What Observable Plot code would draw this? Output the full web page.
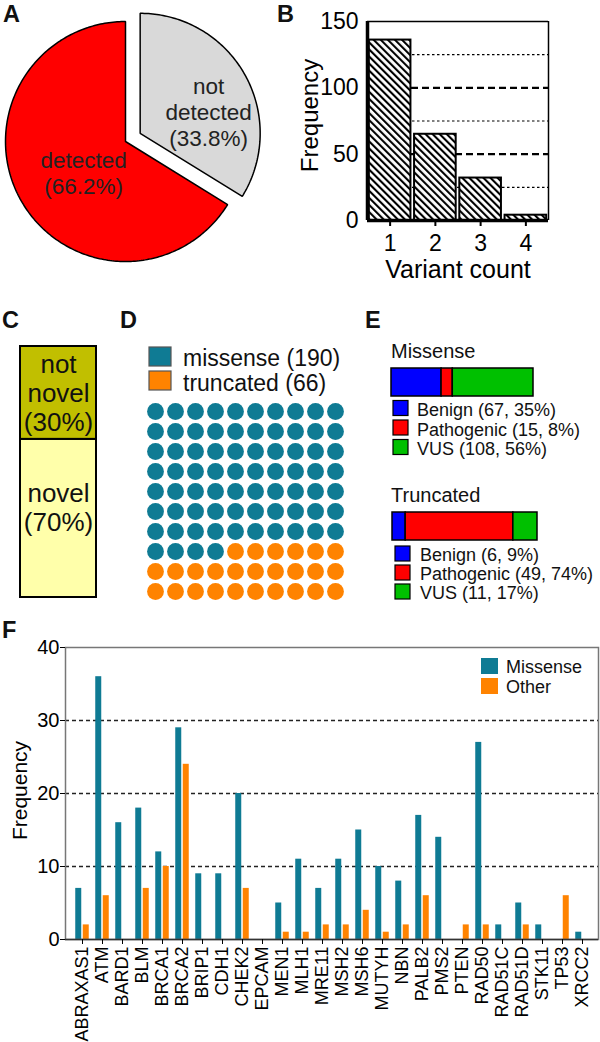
<!DOCTYPE html>
<html><head><meta charset="utf-8">
<script src="https://cdn.jsdelivr.net/npm/d3@7"></script>
<script src="https://cdn.jsdelivr.net/npm/@observablehq/plot@0.6"></script>
<style>
html,body{margin:0;padding:0;background:#fff;}
#root{position:relative;width:600px;height:1042px;overflow:hidden;font-family:"Liberation Sans",Arial,Helvetica,sans-serif;}
.panel{position:absolute;}
.panel svg{display:block;overflow:visible;}
#overlay{position:absolute;left:0;top:0;pointer-events:none;}
</style></head><body><div id="root"></div>
<script>
const FONT = '"Liberation Sans", Arial, Helvetica, sans-serif';

// ---- A: detection pie
const pieLabels = ["not detected", "detected"];
const piePercent = [33.8, 66.2];
const pieColors = ["#d9d9d9", "#ff0000"];

// ---- B: variant count histogram
const variantCount = [1, 2, 3, 4];
const variantFrequency = [136, 65, 32, 4];

// ---- C: novelty
const noveltyLabels = ["novel", "not novel"];
const noveltyPercent = [70, 30];
const noveltyDrawnShare = [63, 37]; // share of the box as drawn
const noveltyColors = ["#ffffaa", "#c1bf00"];

// ---- D: waffle
const mutationTypes = ["missense", "truncated"];
const mutationCounts = [190, 66];
const mutationColors = ["#0f7b94", "#ff8300"];

// ---- E: classification
const classLabels = ["Benign", "Pathogenic", "VUS"];
const classColors = ["#0000ff", "#ff0000", "#00c000"];
const missenseClass = [67, 15, 108];
const missenseClassPct = [35, 8, 56];
const truncatedClass = [6, 49, 11];
const truncatedClassPct = [9, 74, 17];

// ---- F: per gene
const genes = ["ABRAXAS1","ATM","BARD1","BLM","BRCA1","BRCA2","BRIP1","CDH1","CHEK2","EPCAM","MEN1","MLH1","MRE11","MSH2","MSH6","MUTYH","NBN","PALB2","PMS2","PTEN","RAD50","RAD51C","RAD51D","STK11","TP53","XRCC2"];
const missenseByGene = [7,36,16,18,12,29,9,9,20,0,5,11,7,11,15,10,8,17,14,0,27,2,5,2,0,1];
const otherByGene    = [2,6,0,7,10,24,0,0,7,0,1,1,2,2,4,1,2,6,0,2,2,0,2,0,6,0];
const fSeries = ["Missense", "Other"];

const root = document.getElementById("root");
function place(svg, left, top) {
  const d = document.createElement("div");
  d.className = "panel";
  d.style.left = left + "px";
  d.style.top = top + "px";
  d.appendChild(svg);
  root.appendChild(d);
  return svg;
}
const baseStyle = (fs) => ({fontFamily: FONT, fontSize: fs, color: "#000", background: "transparent", overflow: "visible"});

// ===== A =====
const explode = [0.14, 0];
let acc = 0;
const slices = pieLabels.map((label, i) => {
  const a0 = acc, a1 = acc + piePercent[i] / 100 * 2 * Math.PI;
  acc = a1;
  return {label, pct: piePercent[i], color: pieColors[i], a0, a1, mid: (a0 + a1) / 2, off: explode[i]};
});
const piePts = slices.flatMap(s => {
  const ox = s.off * Math.sin(s.mid), oy = s.off * Math.cos(s.mid);
  const n = Math.ceil((s.a1 - s.a0) / (Math.PI / 180));
  const pts = [{slice: s.label, color: s.color, x: ox, y: oy}];
  for (let k = 0; k <= n; k++) {
    const t = s.a0 + (s.a1 - s.a0) * k / n;
    pts.push({slice: s.label, color: s.color, x: ox + Math.sin(t), y: oy + Math.cos(t)});
  }
  pts.push({slice: s.label, color: s.color, x: ox, y: oy});
  return pts;
});
const pieText = slices.map(s => ({
  label: s.label,
  text: s.label.replace(" ", "\n") + "\n(" + s.pct + "%)",
  x: (0.6 + s.off) * Math.sin(s.mid),
  y: (0.6 + s.off) * Math.cos(s.mid)
}));
place(Plot.plot({
  width: 290, height: 280, margin: 0,
  style: baseStyle("22px"),
  x: {domain: [-125 / 120, 165 / 120], axis: null},
  y: {domain: [-139 / 120, 141 / 120], axis: null},
  color: {type: "identity"},
  marks: [
    Plot.line(piePts, {x: "x", y: "y", z: "slice", fill: "color", stroke: "#000", strokeWidth: 1.5, strokeLinejoin: "miter"}),
    Plot.text(pieText.filter(d => d.label === "not detected"), {x: "x", y: "y", text: "text", fill: "#222", fontSize: 22.5, lineHeight: 1.16, lineAnchor: "middle", dx: 5.5, dy: 13.5}),
    Plot.text(pieText.filter(d => d.label === "detected"), {x: "x", y: "y", text: "text", fill: "#222", fontSize: 22.5, lineHeight: 1.16, lineAnchor: "middle", dx: 21, dy: -4})
  ]
}), 0, 0);

// ===== B =====
const bData = variantCount.map((c, i) => ({count: c, freq: variantFrequency[i]}));
const svgB = place(Plot.plot({
  width: 310, height: 280, marginLeft: 77, marginRight: 52, marginTop: 21, marginBottom: 60,
  style: baseStyle("23px"),
  x: {domain: [0.5, 4.5]},
  y: {domain: [0, 150]},
  marks: [
    Plot.ruleY([25, 75, 125], {stroke: "#000", strokeWidth: 1.2, strokeDasharray: "2.5,2.5"}),
    Plot.ruleY([50, 100], {stroke: "#000", strokeWidth: 2.2, strokeDasharray: "7,4"}),
    Plot.rectY(bData, {x1: d => d.count - 0.46, x2: d => d.count + 0.46, y1: 0, y2: "freq", fill: "url(#hatchB)", stroke: "#000", strokeWidth: 2}),
    Plot.ruleY([150], {stroke: "#000", strokeWidth: 1.5}),
    Plot.ruleX([4.5], {stroke: "#000", strokeWidth: 1.5}),
    Plot.ruleX([0.5], {stroke: "#000", strokeWidth: 3.5}),
    Plot.ruleY([0], {stroke: "#000", strokeWidth: 3.5}),
    Plot.axisY({ticks: [0, 50, 100, 150], tickSize: 0, tickPadding: 9, label: null}),
    Plot.axisX({ticks: [1, 2, 3, 4], tickSize: 6, tickPadding: 8, label: null, tickFormat: d => String(d), strokeWidth: 2}),
    Plot.text(["Variant count"], {text: d => d, frameAnchor: "bottom", dy: 49, lineAnchor: "middle", textAnchor: "middle", fontSize: 25}),
    Plot.text(["Frequency"], {text: d => d, frameAnchor: "left", dx: -57.5, dy: -5.5, rotate: -90, lineAnchor: "middle", textAnchor: "middle", fontSize: 24})
  ]
}), 290, 0);
{
  const defs = d3.select(svgB).insert("defs", ":first-child");
  const pat = defs.append("pattern").attr("id", "hatchB").attr("patternUnits", "userSpaceOnUse")
    .attr("width", 5).attr("height", 5).attr("patternTransform", "rotate(-45)");
  pat.append("rect").attr("width", 5).attr("height", 5).attr("fill", "#fff");
  pat.append("rect").attr("width", 2.1).attr("height", 5).attr("fill", "#000");
}

// ===== C =====
let cAcc = 0;
const cData = noveltyLabels.map((label, i) => {
  const y1 = cAcc, y2 = cAcc + noveltyDrawnShare[i];
  cAcc = y2;
  return {label, color: noveltyColors[i], y1, y2, ym: (y1 + y2) / 2,
    text: label.replace(" ", "\n") + "\n(" + noveltyPercent[i] + "%)"};
});
place(Plot.plot({
  width: 130, height: 280, marginLeft: 20, marginRight: 34, marginTop: 16, marginBottom: 13,
  style: baseStyle("26px"),
  x: {domain: ["all"], padding: 0, axis: null},
  y: {domain: [0, 100], axis: null},
  color: {type: "identity"},
  marks: [
    Plot.barY(cData, {x: () => "all", y1: "y1", y2: "y2", fill: "color", stroke: "#000", strokeWidth: 2}),
    Plot.text(cData.filter(d => d.label === "not novel"), {x: () => "all", y: "ym", text: "text", fontSize: 26, lineHeight: 1.12, lineAnchor: "middle", fill: "#111"}),
    Plot.text(cData.filter(d => d.label === "novel"), {x: () => "all", y: "ym", text: "text", fontSize: 26, lineHeight: 1.12, lineAnchor: "middle", fill: "#111", dy: -11})
  ]
}), 0, 330);

// ===== D =====
const totalMut = d3.sum(mutationCounts);
const nMiss = Math.round(mutationCounts[0] / totalMut * 100);
const cells = d3.range(100).map(i => ({col: i % 10, row: Math.floor(i / 10), type: i < nMiss ? mutationTypes[0] : mutationTypes[1]}));
place(Plot.plot({
  width: 240, height: 280,
  style: baseStyle("24px"),
  x: {domain: [0, 9], range: [25, 205], axis: null},
  y: {domain: [0, 9], range: [81, 261], axis: null},
  color: {domain: mutationTypes, range: mutationColors},
  marks: [
    Plot.dot(cells, {x: "col", y: "row", r: 8.4, fill: "type"})
  ]
}), 130, 330);

// ===== E =====
function classData(counts) { return classLabels.map((c, i) => ({cls: c, n: counts[i], color: classColors[i]})); }
place(Plot.plot({
  width: 220, height: 45, marginLeft: 11, marginRight: 67, marginTop: 8, marginBottom: 9,
  style: baseStyle("18px"),
  x: {domain: [0, d3.sum(missenseClass)], axis: null},
  color: {type: "identity"},
  marks: [Plot.barX(classData(missenseClass), Plot.stackX({x: "n", fill: "color", stroke: "#000", strokeWidth: 1.5}))]
}), 380, 360);
place(Plot.plot({
  width: 220, height: 45, marginLeft: 12, marginRight: 63, marginTop: 8, marginBottom: 9,
  style: baseStyle("18px"),
  x: {domain: [0, d3.sum(truncatedClass)], axis: null},
  color: {type: "identity"},
  marks: [Plot.barX(classData(truncatedClass), Plot.stackX({x: "n", fill: "color", stroke: "#000", strokeWidth: 1.5}))]
}), 380, 504);

// ===== F =====
const fMiss = genes.map((g, i) => ({gene: g, v: missenseByGene[i]}));
const fOther = genes.map((g, i) => ({gene: g, v: otherByGene[i]}));
place(Plot.plot({
  width: 600, height: 442, marginLeft: 65, marginRight: 2, marginTop: 47, marginBottom: 103,
  style: baseStyle("20px"),
  x: {domain: genes, padding: 0},
  y: {domain: [0, 40]},
  color: {domain: fSeries, range: mutationColors},
  marks: [
    Plot.ruleY([10, 20, 30], {stroke: "#222", strokeWidth: 1.5, strokeDasharray: "4,3"}),
    Plot.barY(fMiss, {x: "gene", y: "v", fill: () => fSeries[0], insetLeft: 3.25, insetRight: 10.75}),
    Plot.barY(fOther, {x: "gene", y: "v", fill: () => fSeries[1], insetLeft: 10.75, insetRight: 3.25}),
    Plot.frame({stroke: "#777", strokeWidth: 1.5}),
    Plot.ruleY([0], {stroke: "#333", strokeWidth: 1.5}),
    Plot.axisY({ticks: [0, 10, 20, 30, 40], tickSize: 5, tickPadding: 1, label: null}),
    Plot.axisX({tickRotate: -90, tickSize: 5, tickPadding: 2, fontSize: 18, label: null}),
    Plot.text(["Frequency"], {text: d => d, frameAnchor: "left", dx: -45, dy: -3, rotate: -90, lineAnchor: "middle", textAnchor: "middle", fontSize: 21})
  ]
}), 0, 600);

// ===== overlay: panel letters, titles, legends =====
const ov = d3.select(root).append("svg").attr("id", "overlay").attr("width", 600).attr("height", 1042)
  .style("font-family", FONT);
function txt(x, y, s, size, weight) {
  ov.append("text").attr("x", x).attr("y", y).attr("font-size", size).attr("font-weight", weight || "normal").attr("fill", "#111").text(s);
}
function sw(x, y, w, h, fill, stroke) {
  ov.append("rect").attr("x", x).attr("y", y).attr("width", w).attr("height", h).attr("fill", fill)
    .attr("stroke", stroke || "none").attr("stroke-width", stroke ? 1.2 : 0);
}
const panelLetters = [["A", 3, 22], ["B", 277, 22], ["C", 2, 328], ["D", 120, 328], ["E", 365, 328], ["F", 2, 638]];
panelLetters.forEach(([l, x, y]) => txt(x, y, l, 23.5, "bold"));

// D legend
mutationTypes.forEach((t, i) => {
  sw(149, 347 + i * 24, 22, 19, mutationColors[i], "#555");
  txt(183, 366 + i * 24.5, t + " (" + mutationCounts[i] + ")", 23);
});
// E legends
txt(391, 358, "Missense", 20);
classLabels.forEach((c, i) => {
  sw(393, 400.5 + i * 19.5, 15, 15, classColors[i], "#000");
  txt(417, 416 + i * 19.5, c + " (" + missenseClass[i] + ", " + missenseClassPct[i] + "%)", 18);
});
txt(391, 502, "Truncated", 20);
classLabels.forEach((c, i) => {
  sw(395, 546 + i * 19, 15, 15, classColors[i], "#000");
  txt(420, 561 + i * 19, c + " (" + truncatedClass[i] + ", " + truncatedClassPct[i] + "%)", 18);
});
// F legend
fSeries.forEach((s, i) => {
  sw(481, 658 + i * 20, 17, 16, mutationColors[i]);
  txt(506, 673 + i * 20, s, 18);
});
</script></body></html>
